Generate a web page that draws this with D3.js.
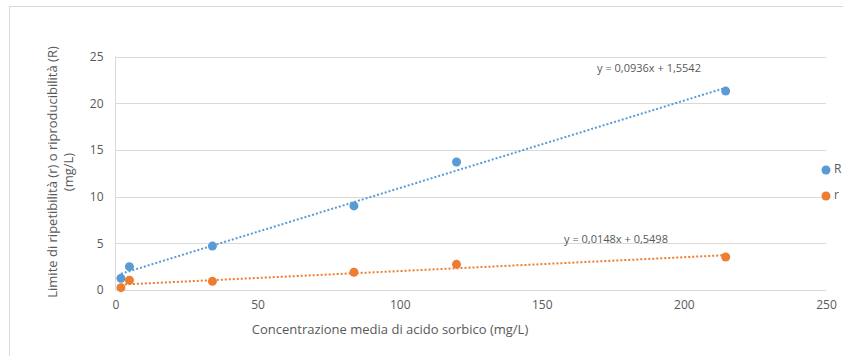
<!DOCTYPE html>
<html>
<head>
<meta charset="utf-8">
<script src="https://cdn.jsdelivr.net/npm/d3@7"></script>
<style>
  body { margin: 0; background: #fff; }
  text { font-family: "Open Sans", sans-serif; fill: #595959; }
</style>
</head>
<body>
<div id="chart"></div>
<script>
var width = 843
var height = 356

// data
var concX = [1.9, 4.9, 34.1, 83.9, 120, 214.7]
var valuesR = [1.25, 2.5, 4.7, 9.0, 13.7, 21.3]
var valuesr = [0.25, 1.04, 0.93, 1.9, 2.75, 3.53]
var seriesNames = ["R", "r"]
var seriesColors = ["#5b9bd5", "#ed7d31"]
// trendline coefficients (slope, intercept) and labels
var trendSlope = [0.0936, 0.0148]
var trendIntercept = [1.5542, 0.5498]
var trendLabels = ["y = 0,0936x + 1,5542", "y = 0,0148x + 0,5498"]
var xTicks = [0, 50, 100, 150, 200, 250]
var yTicks = [0, 5, 10, 15, 20, 25]

var series = [valuesR, valuesr]

var margin = {left: 115.5, right: 17, top: 56.5, bottom: 66}

var svg = d3.select("#chart")
    .append("svg")
    .attr("width", width)
    .attr("height", height)

// outer chart border
svg.append("rect")
    .attr("x", 9.5).attr("y", 6.5)
    .attr("width", 900).attr("height", 400)
    .style("fill", "none").style("stroke", "#d9d9d9")

var x = d3.scaleLinear().domain([0, 250]).range([margin.left, width - margin.right])
var y = d3.scaleLinear().domain([0, 25]).range([height - margin.bottom, margin.top])

// gridlines
svg.append("g")
    .selectAll("line")
    .data(yTicks)
    .join("line")
    .attr("x1", x(0)).attr("x2", x(250))
    .attr("y1", d => Math.round(y(d)) + 0.5).attr("y2", d => Math.round(y(d)) + 0.5)
    .style("stroke", "#d9d9d9").style("stroke-width", 1)

// left axis line
svg.append("line")
    .attr("x1", x(0)).attr("x2", x(0))
    .attr("y1", y(0)).attr("y2", y(25))
    .style("stroke", "#d9d9d9")

// y tick labels
var yAxis = svg.append("g")
    .attr("transform", "translate(" + x(0) + ",0)")
    .call(d3.axisLeft(y).tickValues(yTicks).tickSize(0).tickPadding(12))
yAxis.select(".domain").remove()
yAxis.selectAll("text").style("font-size", "12px").style("fill", "#595959").style("font-family", "Open Sans")

// x tick labels
var xAxis = svg.append("g")
    .attr("transform", "translate(0," + y(0) + ")")
    .call(d3.axisBottom(x).tickValues(xTicks).tickSize(0).tickPadding(10))
xAxis.select(".domain").remove()
xAxis.selectAll("text").style("font-size", "12px").style("fill", "#595959").style("font-family", "Open Sans")

// trendlines
series.forEach(function (vals, i) {
    var x0 = d3.min(concX), x1 = d3.max(concX)
    svg.append("line")
        .attr("x1", x(x0)).attr("y1", y(trendSlope[i] * x0 + trendIntercept[i]))
        .attr("x2", x(x1)).attr("y2", y(trendSlope[i] * x1 + trendIntercept[i]))
        .style("stroke", seriesColors[i])
        .style("stroke-width", 2)
        .style("stroke-dasharray", "2 2")
})

// points
series.forEach(function (vals, i) {
    svg.append("g")
        .selectAll("circle")
        .data(vals)
        .join("circle")
        .attr("cx", (d, j) => x(concX[j]))
        .attr("cy", d => y(d))
        .attr("r", 4.5)
        .style("fill", seriesColors[i])
})

// trendline equations
svg.append("text").attr("x", 649).attr("y", 72).attr("text-anchor", "middle")
    .style("font-size", "11px").text(trendLabels[0])
svg.append("text").attr("x", 616).attr("y", 243).attr("text-anchor", "middle")
    .style("font-size", "11px").text(trendLabels[1])

// legend
var legendY = [170, 196]
seriesNames.forEach(function (name, i) {
    svg.append("circle").attr("cx", 826).attr("cy", legendY[i]).attr("r", 4.5).style("fill", seriesColors[i])
    svg.append("text").attr("x", 834).attr("y", legendY[i]).attr("dominant-baseline", "middle")
        .style("font-size", "12px").text(name)
})

// axis titles
svg.append("text")
    .attr("x", 390).attr("y", 334)
    .attr("text-anchor", "middle")
    .style("font-size", "13px")
    .text("Concentrazione media di acido sorbico (mg/L)")

var yTitle = svg.append("text")
    .attr("transform", "translate(57,172) rotate(-90)")
    .attr("text-anchor", "middle")
    .style("font-size", "13px")
yTitle.append("tspan").attr("x", 0).attr("y", 0).text("Limite di ripetibilità (r) o riproducibilità (R)")
yTitle.append("tspan").attr("x", 0).attr("y", 16).text("(mg/L)")
</script>
</body>
</html>
